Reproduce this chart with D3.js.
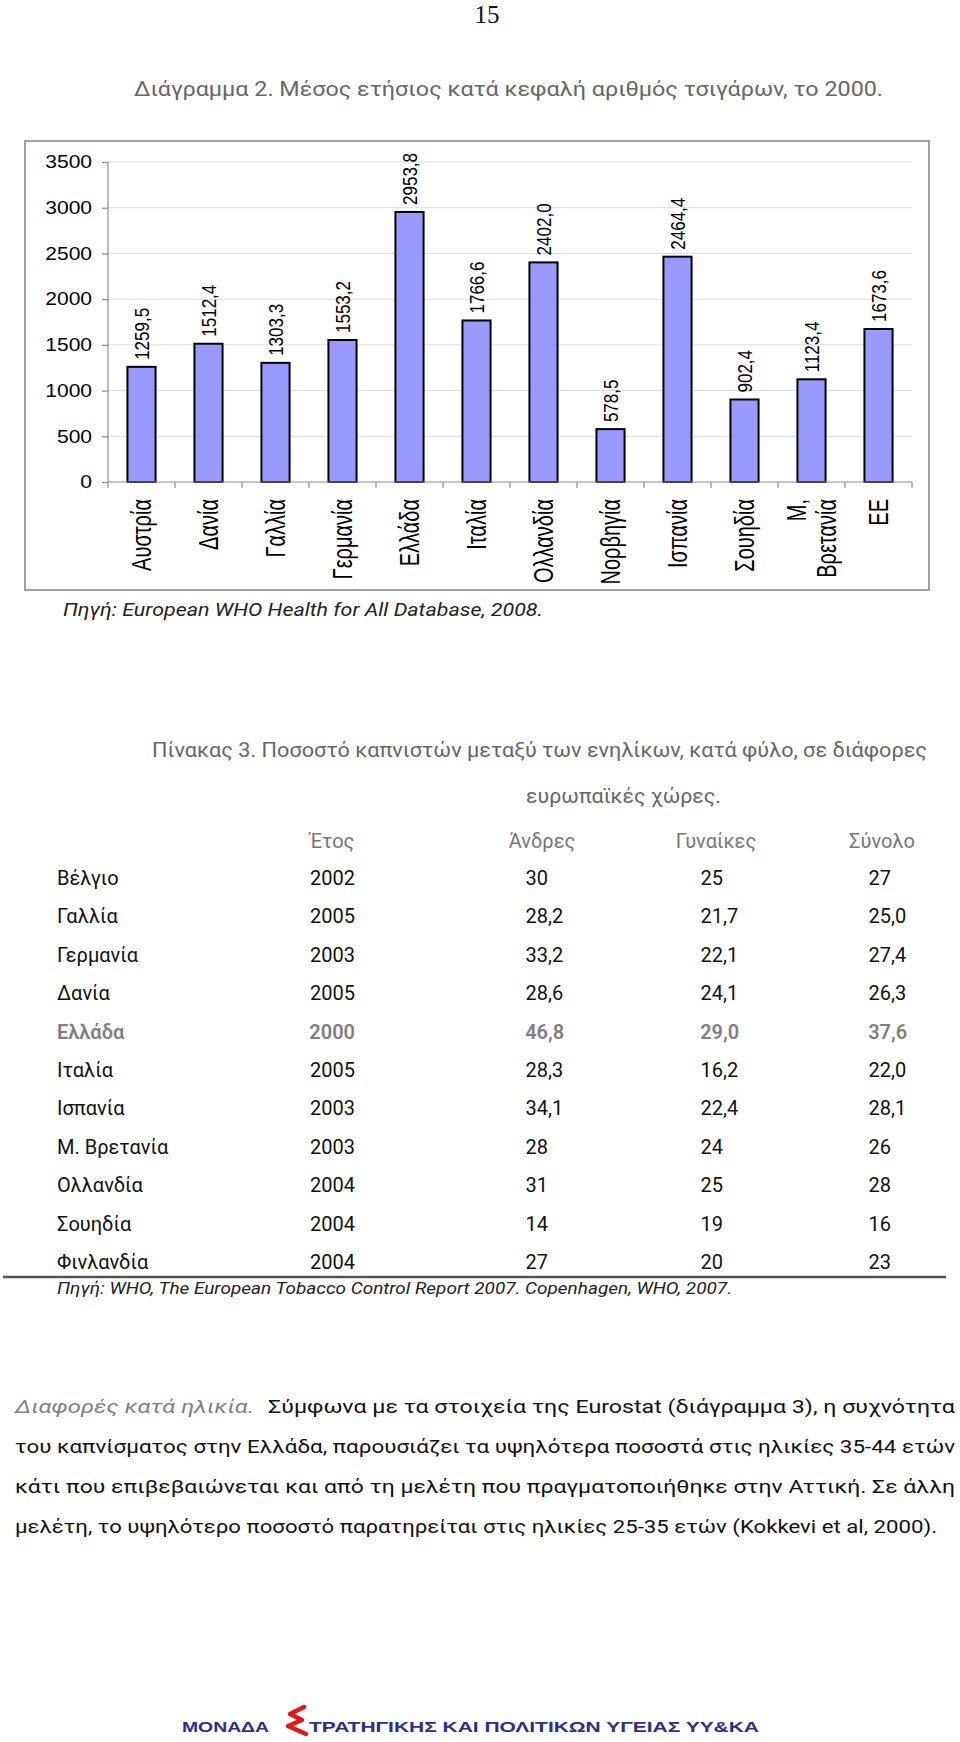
<!DOCTYPE html>
<html><head><meta charset="utf-8">
<script src="https://cdn.jsdelivr.net/npm/d3@7"></script>
<style>body{margin:0;background:#fff} svg{display:block}</style>
</head><body><svg id="c" width="960" height="1742"></svg>
<script>
// ---- Chart data ----
const categories = ["Αυστρία","Δανία","Γαλλία","Γερμανία","Ελλάδα","Ιταλία","Ολλανδία","Νορβηγία","Ισπανία","Σουηδία","Μ, Βρετανία","ΕΕ"];
const values = [1259.5,1512.4,1303.3,1553.2,2953.8,1766.6,2402.0,578.5,2464.4,902.4,1123.4,1673.6];
const yTicks = [0,500,1000,1500,2000,2500,3000,3500];

// ---- Table data ----
const tableHeaders = ["Έτος","Άνδρες","Γυναίκες","Σύνολο"];
const tableCountries = ["Βέλγιο","Γαλλία","Γερμανία","Δανία","Ελλάδα","Ιταλία","Ισπανία","Μ. Βρετανία","Ολλανδία","Σουηδία","Φινλανδία"];
const tableYears = ["2002","2005","2003","2005","2000","2005","2003","2003","2004","2004","2004"];
const tableMen = ["30","28,2","33,2","28,6","46,8","28,3","34,1","28","31","14","27"];
const tableWomen = ["25","21,7","22,1","24,1","29,0","16,2","22,4","24","25","19","20"];
const tableTotal = ["27","25,0","27,4","26,3","37,6","22,0","28,1","26","28","16","23"];
const highlightRow = "Ελλάδα";

// ---- Texts ----
const pageNumber = "15";
const chartTitle = "Διάγραμμα 2. Μέσος ετήσιος κατά κεφαλή αριθμός τσιγάρων, το 2000.";
const chartSource = "Πηγή: European WHO Health for All Database, 2008.";
const tableTitle1 = "Πίνακας 3. Ποσοστό καπνιστών μεταξύ των ενηλίκων, κατά φύλο, σε διάφορες";
const tableTitle2 = "ευρωπαϊκές χώρες.";
const tableSource = "Πηγή: WHO, The European Tobacco Control Report 2007. Copenhagen, WHO, 2007.";
const paraLead = "Διαφορές κατά ηλικία.";
const paraLines = [
  "Σύμφωνα με τα στοιχεία της Eurostat (διάγραμμα 3), η συχνότητα",
  "του καπνίσματος στην Ελλάδα, παρουσιάζει τα υψηλότερα ποσοστά στις ηλικίες 35-44 ετών",
  "κάτι που επιβεβαιώνεται και από τη μελέτη που πραγματοποιήθηκε στην Αττική. Σε άλλη",
  "μελέτη, το υψηλότερο ποσοστό παρατηρείται στις ηλικίες 25-35 ετών (Kokkevi et al, 2000)."
];
const footerLeft = "ΜΟΝΑΔΑ";
const footerRight = "ΤΡΑΤΗΓΙΚΗΣ ΚΑΙ ΠΟΛΙΤΙΚΩΝ ΥΓΕΙΑΣ ΥΥ&ΚΑ";

const svg = d3.select("#c");
const bodyFont = "Roboto, 'Open Sans', 'Noto Sans', sans-serif";
const chartFont = "'Liberation Sans', Arial, sans-serif";

// page number
svg.append("text").attr("x",487).attr("y",23).attr("text-anchor","middle")
  .attr("font-family","'Liberation Serif', serif").attr("font-size",25).attr("fill","#111").text(pageNumber);

// chart title
svg.append("text").attr("x",134).attr("y",96).attr("font-family",bodyFont).attr("font-size",20)
  .attr("fill","#666").attr("textLength",749).attr("lengthAdjust","spacingAndGlyphs").text(chartTitle);

// chart frame
svg.append("rect").attr("x",25).attr("y",141).attr("width",904).attr("height",449)
  .attr("fill","#fff").attr("stroke","#a0a0a0").attr("stroke-width",2);

const x = d3.scaleBand().domain(categories).range([108,912]).paddingInner(0).paddingOuter(0);
const y = d3.scaleLinear().domain([0,3500]).range([482,162]);
const g = svg.append("g");

// gridlines
g.selectAll("line.grid").data(yTicks.filter(d=>d>0)).join("line")
  .attr("x1",108).attr("x2",912).attr("y1",d=>y(d)).attr("y2",d=>y(d))
  .attr("stroke","#dcdcdc").attr("stroke-width",1);

// y axis
const yAxis = g.append("g").attr("transform","translate(108,0)")
  .call(d3.axisLeft(y).tickValues(yTicks).tickSize(6).tickFormat(""));
yAxis.selectAll("path,line").attr("stroke","#8c8c8c").attr("stroke-width",1.2);
yAxis.select(".domain").attr("d","M0,"+y(3500)+"V"+y(0));
g.selectAll("text.ytick").data(yTicks).join("text")
  .attr("transform",d=>`translate(92,${y(d)}) scale(1.2,1)`)
  .attr("text-anchor","end").attr("dy","0.36em")
  .attr("font-family",chartFont).attr("font-size",17.5).attr("fill","#000").text(d=>d);

// bars
const bw = x.bandwidth()*0.42;
g.selectAll("rect.bar").data(values).join("rect")
  .attr("x",(d,i)=>x(categories[i])+x.bandwidth()/2-bw/2)
  .attr("y",d=>y(d)).attr("width",bw).attr("height",d=>y(0)-y(d))
  .attr("fill","#9999ff").attr("stroke","#000").attr("stroke-width",2);

// x axis
g.append("line").attr("x1",108).attr("x2",912).attr("y1",y(0)).attr("y2",y(0))
  .attr("stroke","#8c8c8c").attr("stroke-width",1.2);
const edges = categories.map(c=>x(c)).concat([x.range()[1]]);
g.selectAll("line.xtick").data(edges).join("line")
  .attr("x1",d=>d).attr("x2",d=>d).attr("y1",y(0)).attr("y2",y(0)+6)
  .attr("stroke","#8c8c8c").attr("stroke-width",1.2);

// value labels
g.selectAll("text.val").data(values).join("text")
  .attr("transform",(d,i)=>`translate(${x(categories[i])+x.bandwidth()/2},${y(d)-7}) scale(1.22,1) rotate(-90)`)
  .attr("text-anchor","start").attr("dy","0.36em")
  .attr("font-family",chartFont).attr("font-size",17).attr("fill","#000")
  .text(d=>d.toFixed(1).replace(".",","));

// category labels
categories.forEach(c=>{
  const lines = c.includes(", ") ? [c.split(", ")[0]+",", c.split(", ")[1]] : [c];
  const cx = x(c)+x.bandwidth()/2;
  const t = g.append("text")
    .attr("transform",`translate(${cx},499) scale(1.35,1) rotate(-90)`)
    .attr("text-anchor","end").attr("font-family",chartFont).attr("font-size",20).attr("fill","#000");
  lines.forEach((l,k)=>{
    const off = lines.length===1 ? 0.36 : (k===0 ? -0.2 : 0.92);
    t.append("tspan").attr("x",0).attr("y",0).attr("dy",off+"em").text(l);
  });
});

// chart source
svg.append("text").attr("x",63).attr("y",616).attr("font-family",bodyFont).attr("font-style","italic")
  .attr("font-size",18).attr("fill","#222").attr("textLength",480).attr("lengthAdjust","spacingAndGlyphs").text(chartSource);

// table title
svg.append("text").attr("x",152).attr("y",757).attr("font-family",bodyFont).attr("font-size",20)
  .attr("fill","#666").attr("textLength",775).attr("lengthAdjust","spacingAndGlyphs").text(tableTitle1);
svg.append("text").attr("x",526).attr("y",803).attr("font-family",bodyFont).attr("font-size",20)
  .attr("fill","#666").attr("textLength",195).attr("lengthAdjust","spacingAndGlyphs").text(tableTitle2);

// table
const headerX = [332,542,716,882];
svg.selectAll("text.th").data(tableHeaders).join("text")
  .attr("x",(d,i)=>headerX[i]).attr("y",848).attr("text-anchor","middle")
  .attr("font-family",bodyFont).attr("font-size",20).attr("fill","#777").text(d=>d);

const rowY = d3.scaleLinear().domain([0,tableCountries.length-1]).range([885,1269]);
const numCols = [{vals:tableMen,x:548},{vals:tableWomen,x:723},{vals:tableTotal,x:891}];
tableCountries.forEach((c,i)=>{
  const hl = c===highlightRow;
  const fill = hl ? "#808080" : "#111";
  const fw = hl ? 600 : 400;
  const yy = rowY(i);
  svg.append("text").attr("x",57).attr("y",yy).attr("font-family",bodyFont).attr("font-size",20)
    .attr("fill",fill).attr("font-weight",fw).text(c);
  svg.append("text").attr("x",355).attr("y",yy).attr("text-anchor","end").attr("font-family",bodyFont)
    .attr("font-size",20).attr("fill",fill).attr("font-weight",fw).text(tableYears[i]);
  numCols.forEach(col=>{
    const parts = col.vals[i].split(",");
    svg.append("text").attr("x",col.x).attr("y",yy).attr("text-anchor","end").attr("font-family",bodyFont)
      .attr("font-size",20).attr("fill",fill).attr("font-weight",fw).text(parts[0]);
    if(parts.length>1){
      svg.append("text").attr("x",col.x).attr("y",yy).attr("text-anchor","start").attr("font-family",bodyFont)
        .attr("font-size",20).attr("fill",fill).attr("font-weight",fw).text(","+parts[1]);
    }
  });
});
svg.append("line").attr("x1",3).attr("x2",946).attr("y1",1277).attr("y2",1277)
  .attr("stroke","#555").attr("stroke-width",2.5);
svg.append("text").attr("x",57).attr("y",1294).attr("font-family",bodyFont).attr("font-style","italic")
  .attr("font-size",17).attr("fill","#222").attr("textLength",675).attr("lengthAdjust","spacingAndGlyphs").text(tableSource);

// paragraph
const paraBase = [1413,1453,1493,1533];
svg.append("text").attr("x",15).attr("y",paraBase[0]).attr("font-family",bodyFont).attr("font-style","italic")
  .attr("font-size",19).attr("fill","#808080").attr("textLength",239).attr("lengthAdjust","spacingAndGlyphs").text(paraLead);
const paraX = [268,15,15,15], paraEnd = [955,955,955,937];
paraLines.forEach((l,i)=>{
  svg.append("text").attr("x",paraX[i]).attr("y",paraBase[i]).attr("font-family",bodyFont)
    .attr("font-size",19).attr("fill","#111").attr("textLength",paraEnd[i]-paraX[i])
    .attr("lengthAdjust","spacingAndGlyphs").text(l);
});

// footer
const navy = "#2b2e8c";
svg.append("text").attr("x",182).attr("y",1732).attr("font-family",chartFont).attr("font-weight","bold")
  .attr("font-size",15).attr("fill",navy).attr("textLength",87).attr("lengthAdjust","spacingAndGlyphs").text(footerLeft);
svg.append("path").attr("d","M304,1707 L290,1714 L302,1720 L288,1726 L306,1734")
  .attr("fill","none").attr("stroke","#e01818").attr("stroke-width",4.5).attr("stroke-linejoin","round").attr("stroke-linecap","round");
svg.append("text").attr("x",309).attr("y",1732).attr("font-family",chartFont).attr("font-weight","bold")
  .attr("font-size",15).attr("fill",navy).attr("textLength",450).attr("lengthAdjust","spacingAndGlyphs").text(footerRight);
</script></body></html>
